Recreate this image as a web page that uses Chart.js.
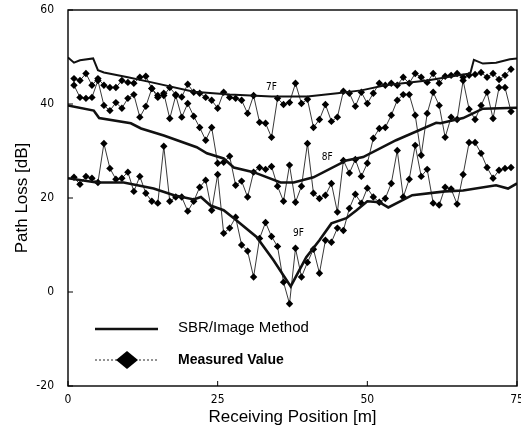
<!DOCTYPE html>
<html>
<head>
<meta charset="utf-8">
<script src="https://cdn.jsdelivr.net/npm/chart.js@4/dist/chart.umd.min.js"></script>
<style>
  html, body { margin: 0; padding: 0; background: #fff; }
  #wrap { width: 521px; height: 433px; }
</style>
</head>
<body>
<div id="wrap"><canvas id="pathLossChart" width="521" height="433"></canvas></div>
<script>
// Receiving positions [m] of the measured points
const measuredPos = [1, 2, 3, 4, 5, 6, 7, 8, 9, 10, 11, 12, 13, 14, 15, 16, 17, 18, 19, 20,
  21, 22, 23, 24, 25, 26, 27, 28, 29, 30, 31, 32, 33, 34, 35, 36, 37, 38, 39, 40,
  41, 42, 43, 44, 45, 46, 47, 48, 49, 50, 51, 52, 53, 54, 55, 56, 57, 58, 59, 60,
  61, 62, 63, 64, 65, 66, 67, 68, 69, 70, 71, 72, 73, 74];

// Measured path loss [dB], one value per position above
const measured7F = [45.4, 45.0, 46.5, 44.0, 45.4, 44.0, 43.5, 43.5, 45.0, 44.6, 44.4, 45.7, 45.9, 43.3, 41.8, 41.8, 43.5, 42.0, 41.5, 44.2,
  42.5, 42.3, 41.4, 40.8, 39.1, 42.5, 41.4, 41.2, 40.8, 38.0, 41.8, 36.1, 35.9, 32.9, 41.2, 39.9, 40.3, 44.4, 40.1, 41.0,
  35.0, 36.7, 39.9, 36.3, 37.2, 42.7, 42.3, 39.5, 42.5, 40.1, 42.3, 44.4, 44.0, 44.4, 44.0, 45.7, 44.4, 46.5, 45.7, 44.6,
  46.5, 44.4, 45.9, 46.1, 46.5, 45.7, 46.1, 46.3, 46.7, 45.7, 46.5, 45.2, 46.1, 47.4];

const measured8F = [44.0, 41.4, 41.2, 41.4, 45.0, 39.7, 38.6, 40.3, 39.1, 41.2, 42.0, 37.2, 39.5, 43.3, 41.4, 42.3, 36.9, 41.8, 37.2, 40.1,
  37.4, 35.0, 32.3, 35.0, 27.4, 27.6, 28.9, 22.7, 23.6, 20.2, 25.5, 26.5, 26.1, 26.7, 22.5, 19.3, 27.0, 19.1, 22.5, 31.6,
  21.0, 19.9, 20.6, 23.1, 17.0, 28.0, 25.3, 28.2, 24.6, 27.4, 32.7, 34.8, 35.0, 37.6, 40.8, 42.0, 42.0, 37.6, 29.1, 38.0,
  42.5, 39.7, 32.9, 37.2, 36.7, 45.0, 38.9, 36.7, 39.7, 42.5, 36.9, 43.5, 43.5, 38.4];

const measured9F = [24.4, 22.9, 24.6, 24.2, 23.3, 31.6, 26.3, 24.0, 24.2, 25.5, 21.4, 24.6, 21.0, 19.3, 18.9, 31.0, 19.3, 20.2, 20.2, 17.2,
  19.3, 22.3, 23.8, 17.4, 25.0, 12.5, 13.6, 15.9, 10.0, 8.7, 3.2, 11.4, 14.8, 11.8, 9.7, 2.1, -2.5, 9.3, 3.2, 6.3,
  9.1, 4.0, 11.0, 10.6, 13.6, 13.1, 17.8, 20.8, 18.9, 22.1, 20.2, 19.1, 19.9, 23.1, 30.1, 20.2, 24.0, 31.2, 24.6, 26.1,
  18.9, 18.5, 22.3, 21.9, 18.7, 25.0, 31.8, 31.8, 29.5, 26.5, 24.2, 25.9, 26.3, 26.5];

// SBR/Image method curves, read at their break points
const sbr7FPos = [0, 1, 2, 4.2, 5, 6, 10, 14, 21, 27, 34, 40, 45, 49, 53, 60, 66, 67.2, 67.8, 69.3, 71.5, 73.8, 75];
const sbr7F = [49.9, 48.8, 49.3, 49.7, 47.2, 46.7, 45.7, 44.6, 42.6, 42.0, 41.6, 41.6, 42.3, 42.9, 44.0, 45.0, 46.3, 46.5, 49.4, 48.6, 48.8, 49.5, 49.7];

const sbr8FPos = [0, 4.3, 5.2, 10.5, 12.2, 16, 21.5, 23.2, 26, 27.7, 31, 35.5, 37.7, 41, 46.5, 49.3, 54.8, 61.5, 62.2, 66, 69.3, 75];
const sbr8F = [39.7, 38.6, 37.0, 35.9, 34.8, 33.3, 30.8, 29.5, 28.4, 26.5, 25.5, 23.3, 23.3, 24.4, 28.0, 28.7, 32.3, 36.0, 35.9, 37.0, 39.0, 39.2];

const sbr9FPos = [0, 4.8, 9.3, 14.3, 17.7, 21, 22.2, 23.8, 26, 27.7, 31.5, 34.3, 37.2, 39.8, 42, 44, 46.5, 48.2, 50, 52, 53.5, 57.5, 63, 66, 71.5, 73.5, 75];
const sbr9F = [24.2, 23.3, 23.3, 22.0, 20.6, 19.7, 20.2, 18.4, 17.4, 15.7, 11.7, 6.8, 1.2, 7.4, 11.0, 14.6, 15.7, 17.4, 19.3, 19.1, 18.0, 20.6, 21.4, 21.6, 22.7, 22.0, 23.1];

// floor labels placed on the curves
const floorNames = ['7F', '8F', '9F'];
const floorNamePos = [34, 43.3, 38.5];
const floorNameVal = [43.5, 28.7, 12.5];

const xTicks = [0, 25, 50, 75];
const yTicks = [-20, 0, 20, 40, 60];

const toPoints = (xs, ys) => xs.map((x, i) => ({ x: x, y: ys[i] }));

const sbrStyle = { borderColor: '#111', borderWidth: 2.6, pointRadius: 0, fill: false, tension: 0 };
const measStyle = {
  borderColor: '#222', borderWidth: 0.9, fill: false, tension: 0,
  pointStyle: 'rectRot', pointRadius: 3.7, pointBackgroundColor: '#000', pointBorderWidth: 0
};

const textFont = "'Liberation Sans', Arial, sans-serif";
const tickFont = "'Liberation Sans Narrow', 'DejaVu Sans Condensed', 'Liberation Sans', Arial, sans-serif";

// frame, inward ticks, legend and floor names
const decorations = {
  id: 'decorations',
  afterDatasetsDraw(chart) {
    const { ctx, chartArea: a, scales } = chart;
    ctx.save();
    ctx.strokeStyle = '#000';
    ctx.lineWidth = 1.4;
    ctx.strokeRect(a.left, a.top, a.right - a.left, a.bottom - a.top);

    ctx.lineWidth = 1;
    ctx.beginPath();
    yTicks.forEach(v => {
      const py = scales.y.getPixelForValue(v);
      ctx.moveTo(a.left, py); ctx.lineTo(a.left + 5, py);
    });
    xTicks.forEach(v => {
      const px = scales.x.getPixelForValue(v);
      ctx.moveTo(px, a.bottom); ctx.lineTo(px, a.bottom - 5);
    });
    ctx.stroke();

    // legend
    const lx = a.left + 27, tx = a.left + 110;
    const ly1 = a.bottom - 57, ly2 = a.bottom - 26;
    ctx.lineWidth = 2.6;
    ctx.strokeStyle = '#111';
    ctx.beginPath(); ctx.moveTo(lx, ly1); ctx.lineTo(lx + 63, ly1); ctx.stroke();
    ctx.lineWidth = 0.9;
    ctx.setLineDash([2, 2]);
    ctx.beginPath(); ctx.moveTo(lx, ly2); ctx.lineTo(lx + 62, ly2); ctx.stroke();
    ctx.setLineDash([]);
    const cx = lx + 32;
    ctx.fillStyle = '#000';
    ctx.beginPath();
    ctx.moveTo(cx - 11, ly2); ctx.lineTo(cx, ly2 - 9); ctx.lineTo(cx + 11, ly2); ctx.lineTo(cx, ly2 + 9);
    ctx.closePath(); ctx.fill();

    ctx.textBaseline = 'middle';
    ctx.textAlign = 'left';
    ctx.font = '15px ' + textFont;
    ctx.fillText('SBR/Image Method', tx, ly1 - 1);
    ctx.font = 'bold 14px ' + textFont;
    ctx.fillText('Measured Value', tx, ly2);

    // floor names
    ctx.font = '10px ' + tickFont;
    ctx.textAlign = 'center';
    floorNames.forEach((name, i) => {
      ctx.fillText(name, scales.x.getPixelForValue(floorNamePos[i]), scales.y.getPixelForValue(floorNameVal[i]));
    });
    ctx.restore();
  }
};

const ctx = document.getElementById('pathLossChart').getContext('2d');
const pathLossChart = new Chart(ctx, {
  type: 'line',
  data: {
    datasets: [
      Object.assign({ label: 'SBR 7F', data: toPoints(sbr7FPos, sbr7F) }, sbrStyle, { borderWidth: 2 }),
      Object.assign({ label: 'SBR 8F', data: toPoints(sbr8FPos, sbr8F) }, sbrStyle),
      Object.assign({ label: 'SBR 9F', data: toPoints(sbr9FPos, sbr9F) }, sbrStyle),
      Object.assign({ label: 'Measured 7F', data: toPoints(measuredPos, measured7F) }, measStyle),
      Object.assign({ label: 'Measured 8F', data: toPoints(measuredPos, measured8F) }, measStyle),
      Object.assign({ label: 'Measured 9F', data: toPoints(measuredPos, measured9F) }, measStyle)
    ]
  },
  options: {
    responsive: false,
    animation: false,
    layout: { padding: { left: 0, right: 3, top: 10, bottom: 0 } },
    plugins: {
      legend: { display: false },
      tooltip: { enabled: false }
    },
    scales: {
      x: {
        type: 'linear',
        min: 0,
        max: 75,
        afterBuildTicks: s => { s.ticks = xTicks.map(v => ({ value: v })); },
        ticks: { color: '#000', font: { family: tickFont, size: 12 }, padding: 7, maxRotation: 0 },
        grid: { display: false, drawTicks: false },
        border: { display: false },
        title: {
          display: true, text: 'Receiving Position [m]', color: '#000',
          font: { family: textFont, size: 17 }, padding: { top: 0, bottom: 5 }
        },
        afterFit: s => { s.height = 47; s.paddingLeft = 0; s.paddingRight = 0; }
      },
      y: {
        min: -20,
        max: 60,
        afterBuildTicks: s => { s.ticks = yTicks.map(v => ({ value: v })); },
        ticks: { color: '#000', font: { family: tickFont, size: 12 }, padding: 14 },
        grid: { display: false, drawTicks: false },
        border: { display: false },
        title: {
          display: true, text: 'Path Loss [dB]', color: '#000',
          font: { family: textFont, size: 17 }, padding: { top: 12, bottom: 0 }
        },
        afterFit: s => { s.width = 68; s.paddingTop = 0; s.paddingBottom = 0; }
      }
    }
  },
  plugins: [decorations]
});
</script>
</body>
</html>
